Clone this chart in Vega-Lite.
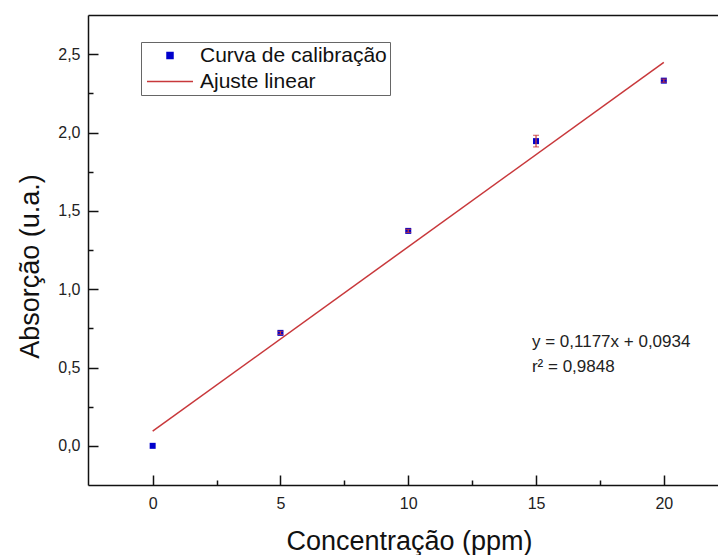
{
  "$schema": "https://vega.github.io/schema/vega-lite/v6.json",
  "width": 630,
  "height": 470,
  "autosize": {"type": "none"},
  "padding": {"left": 88, "top": 15, "right": 0, "bottom": 70},
  "background": "white",
  "config": {
    "font": "Liberation Sans",
    "view": {"stroke": null}
  },
  "datasets": {
    "pts": [
      {"conc": 0, "abs": 0.0, "lo": 0.0, "hi": 0.0, "serie": "Curva de calibração"},
      {"conc": 5, "abs": 0.721, "lo": 0.711, "hi": 0.731, "serie": "Curva de calibração"},
      {"conc": 10, "abs": 1.372, "lo": 1.362, "hi": 1.382, "serie": "Curva de calibração"},
      {"conc": 15, "abs": 1.945, "lo": 1.908, "hi": 1.982, "serie": "Curva de calibração"},
      {"conc": 20, "abs": 2.331, "lo": 2.321, "hi": 2.341, "serie": "Curva de calibração"}
    ],
    "fit": [
      {"conc": 0, "abs": 0.0934, "serie": "Ajuste linear"},
      {"conc": 20, "abs": 2.4474, "serie": "Ajuste linear"}
    ]
  },
  "resolve": {"axis": {"x": "independent"}},
  "layer": [
    {
      "data": {"name": "fit"},
      "mark": {"type": "line", "strokeWidth": 1.5},
      "encoding": {
        "x": {"field": "conc", "type": "quantitative",
          "scale": {"domain": [-2.53, 22.12], "nice": false, "zero": false},
          "axis": {"orient": "top", "labels": false, "ticks": false, "title": null, "grid": false, "domain": true, "domainColor": "#111", "domainWidth": 1.5}},
        "y": {"field": "abs", "type": "quantitative", "title": "Absorção (u.a.)"},
        "color": {"field": "serie", "type": "nominal",
          "scale": {"domain": ["Curva de calibração", "Ajuste linear"], "range": ["#0000cc", "#c8383b"]},
          "legend": {
            "title": null, "orient": "none", "legendX": 53, "legendY": 27,
            "strokeColor": "#666", "padding": 3, "fillColor": "white",
            "labelFontSize": 21, "labelColor": "#111", "labelFont": "Liberation Sans", "labelLimit": 0,
            "symbolSize": 100, "labelOffset": 35, "rowPadding": 4,
            "encode": {"symbols": {"update": {
              "shape": {"signal": "datum.value === 'Ajuste linear' ? 'stroke' : 'square'"},
              "size": {"signal": "datum.value === 'Ajuste linear' ? 2116 : 36"},
              "fill": {"signal": "datum.value === 'Ajuste linear' ? 'transparent' : '#0000cc'"},
              "stroke": {"signal": "datum.value === 'Ajuste linear' ? '#c8383b' : 'transparent'"},
              "strokeWidth": {"value": 1.5},
              "opacity": {"value": 1},
              "x": {"value": 26}
            }}}
          }}
      }
    },
    {
      "data": {"name": "pts"},
      "mark": {"type": "point", "shape": "square", "filled": true, "size": 36, "opacity": 1},
      "encoding": {
        "x": {"field": "conc", "type": "quantitative",
          "axis": {
            "title": "Concentração (ppm)",
            "values": [0, 2.5, 5, 7.5, 10, 12.5, 15, 17.5, 20],
            "labelExpr": "datum.value % 5 === 0 ? datum.label : ''",
            "grid": false, "domainColor": "#111", "domainWidth": 1.5,
            "tickColor": "#111", "tickWidth": 1.5,
            "tickSize": {"condition": {"test": "datum.value % 5 === 0", "value": -10}, "value": -5},
            "labelPadding": 20, "labelFontSize": 16, "labelColor": "#222", "labelFont": "Liberation Sans",
            "titleFontSize": 27, "titleFontWeight": "normal", "titleColor": "#111", "titleFont": "Liberation Sans",
            "titleX": 321, "titleY": 64, "titleBaseline": "alphabetic", "titleAlign": "center"
          }},
        "y": {"field": "abs", "type": "quantitative", "title": "Absorção (u.a.)",
          "scale": {"domain": [-0.25, 2.75], "nice": false, "zero": false},
          "axis": {
            "values": [0, 0.25, 0.5, 0.75, 1, 1.25, 1.5, 1.75, 2, 2.25, 2.5],
            "labelExpr": "round(datum.value * 4) % 2 === 0 ? replace(format(datum.value, '.1f'), '.', ',') : ''",
            "grid": false, "domainColor": "#111", "domainWidth": 1.5,
            "tickColor": "#111", "tickWidth": 1.5,
            "tickSize": {"condition": {"test": "round(datum.value * 4) % 2 === 0", "value": -10}, "value": -5},
            "labelPadding": 18, "labelFontSize": 16, "labelColor": "#222", "labelFont": "Liberation Sans",
            "titleFontSize": 27, "titleFontWeight": "normal", "titleColor": "#111", "titleFont": "Liberation Sans",
            "titleX": -49.5, "titleY": 251, "titleBaseline": "alphabetic", "titleAlign": "center", "titleAngle": 270
          }},
        "color": {"field": "serie", "type": "nominal",
          "scale": {"domain": ["Curva de calibração", "Ajuste linear"], "range": ["#0000cc", "#c8383b"]},
          "legend": {
            "title": null, "orient": "none", "legendX": 53, "legendY": 27,
            "strokeColor": "#666", "padding": 3, "fillColor": "white",
            "labelFontSize": 21, "labelColor": "#111", "labelFont": "Liberation Sans", "labelLimit": 0,
            "symbolSize": 100, "labelOffset": 35, "rowPadding": 4,
            "encode": {"symbols": {"update": {
              "shape": {"signal": "datum.value === 'Ajuste linear' ? 'stroke' : 'square'"},
              "size": {"signal": "datum.value === 'Ajuste linear' ? 2116 : 36"},
              "fill": {"signal": "datum.value === 'Ajuste linear' ? 'transparent' : '#0000cc'"},
              "stroke": {"signal": "datum.value === 'Ajuste linear' ? '#c8383b' : 'transparent'"},
              "strokeWidth": {"value": 1.5},
              "opacity": {"value": 1},
              "x": {"value": 26}
            }}}
          }}
      }
    },
    {
      "data": {"name": "pts"},
      "transform": [{"filter": "datum.hi > datum.lo"}],
      "mark": {"type": "errorbar", "color": "#c8383b", "ticks": {"size": 6, "thickness": 1.2}, "rule": {"strokeWidth": 1.2}},
      "encoding": {
        "x": {"field": "conc", "type": "quantitative", "axis": null},
        "y": {"field": "lo", "type": "quantitative", "title": "Absorção (u.a.)"},
        "y2": {"field": "hi"}
      }
    },
    {
      "data": {"values": [{}]},
      "mark": {"type": "text", "align": "left", "baseline": "alphabetic", "fontSize": 17, "lineHeight": 25, "color": "#222", "font": "Liberation Sans"},
      "encoding": {
        "x": {"datum": 14.84, "type": "quantitative", "axis": null},
        "y": {"datum": 0.63, "type": "quantitative", "title": "Absorção (u.a.)"},
        "text": {"value": ["y = 0,1177x + 0,0934", "r² = 0,9848"]}
      }
    }
  ]
}
